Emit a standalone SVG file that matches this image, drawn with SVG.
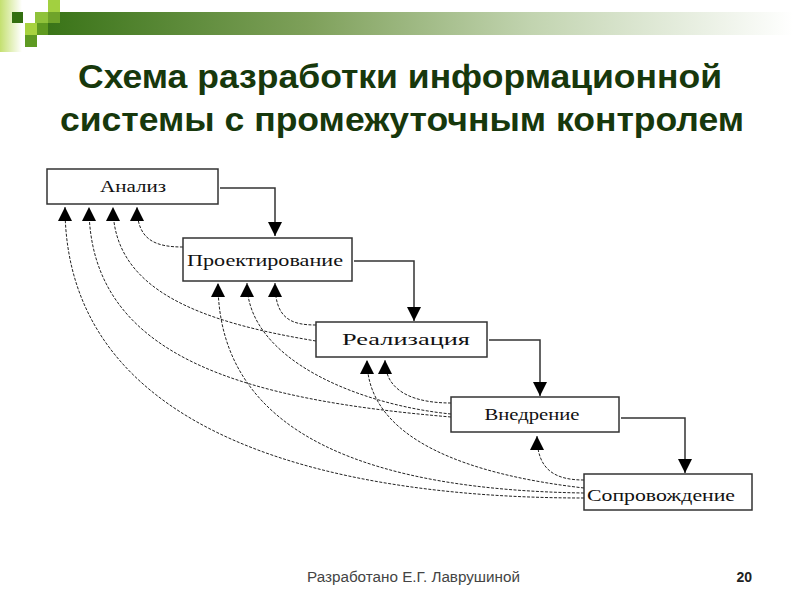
<svg xmlns="http://www.w3.org/2000/svg" width="800" height="600" viewBox="0 0 800 600">
<style>
.box{fill:#fff;stroke:#333;stroke-width:1.5}
.lbl{font-family:"Liberation Serif","DejaVu Serif",serif;font-size:16px;fill:#111;text-anchor:middle}
.fwd{fill:none;stroke:#333;stroke-width:1.5}
.fb{fill:none;stroke:#222;stroke-width:1;stroke-dasharray:3,1.5}
.title{font-family:"Liberation Sans",Arial,sans-serif;font-weight:bold;font-size:33px;fill:#17380c;text-anchor:middle}
</style>
<defs>
<linearGradient id="bar" x1="0" y1="0" x2="1" y2="0">
<stop offset="0" stop-color="#3a7418"/>
<stop offset="0.35" stop-color="#7ea05a"/>
<stop offset="0.65" stop-color="#c2d4b0"/>
<stop offset="1" stop-color="#ffffff"/>
</linearGradient>
<linearGradient id="strip" x1="0" y1="0" x2="1" y2="0">
<stop offset="0" stop-color="#c4e070"/>
<stop offset="1" stop-color="#ffffff"/>
</linearGradient>
<marker id="up" markerUnits="userSpaceOnUse" markerWidth="14" markerHeight="16" refX="14" refY="7" orient="auto" viewBox="0 0 14 14">
<path d="M14,7 L0,0 L0,14 Z" fill="#000" stroke="none"/>
</marker>
</defs>
<rect width="800" height="600" fill="#fff"/>
<g id="header">
<rect x="0" y="0" width="22" height="52" fill="url(#strip)"/>
<rect x="48" y="12" width="745" height="23" fill="url(#bar)"/>
<rect x="12" y="12" width="11" height="11" fill="#336f10"/>
<rect x="35" y="12" width="13" height="11" fill="#8fc23a"/>
<rect x="48" y="0" width="12" height="12" fill="#a2d040"/>
<rect x="48" y="12" width="12" height="11" fill="#6fa32a"/>
<rect x="25" y="23" width="12" height="12" fill="#a7d23f"/>
<rect x="37" y="23" width="11" height="12" fill="#5f9a20"/>
<rect x="25" y="35" width="12" height="12" fill="#5e9a22"/>
</g>
<g id="title">
<text class="title" x="400" y="88" textLength="644" lengthAdjust="spacingAndGlyphs">Схема разработки информационной</text>
<text class="title" x="402" y="131" textLength="684" lengthAdjust="spacingAndGlyphs">системы с промежуточным контролем</text>
</g>
<g id="connectors">
<path class="fwd" d="M220,188 H275 V236" marker-end="url(#up)"/>
<path class="fwd" d="M354,261 H414 V321" marker-end="url(#up)"/>
<path class="fwd" d="M489,340 H540 V396" marker-end="url(#up)"/>
<path class="fwd" d="M621,418 H685 V473" marker-end="url(#up)"/>
<path class="fb" d="M183,247 C155,247 137,240 137,207" marker-end="url(#up)"/>
<path class="fb" d="M316,325 C290,325 275,318 275,283" marker-end="url(#up)"/>
<path class="fb" d="M316,341 C200,322 113,290 113,207" marker-end="url(#up)"/>
<path class="fb" d="M451,403 C420,403 385,395 385,360" marker-end="url(#up)"/>
<path class="fb" d="M451,414 C360,405 247,360 247,283" marker-end="url(#up)"/>
<path class="fb" d="M451,417 C250,400 89,360 89,207" marker-end="url(#up)"/>
<path class="fb" d="M584,480 C555,480 537,470 537,436" marker-end="url(#up)"/>
<path class="fb" d="M584,488 C470,475 367,440 367,360" marker-end="url(#up)"/>
<path class="fb" d="M584,493 C380,490 218,440 218,283" marker-end="url(#up)"/>
<path class="fb" d="M584,498 C340,498 65,440 65,207" marker-end="url(#up)"/>
</g>
<g id="analiz">
<rect class="box" x="47" y="169" width="171" height="35"/>
<text class="lbl" x="133" y="192" textLength="66" lengthAdjust="spacingAndGlyphs">Анализ</text>
</g>
<g id="proekt">
<rect class="box" x="183" y="238" width="169" height="43"/>
<text class="lbl" x="265" y="266" textLength="156" lengthAdjust="spacingAndGlyphs">Проектирование</text>
</g>
<g id="realiz">
<rect class="box" x="316" y="322" width="171" height="35"/>
<text class="lbl" x="406" y="345" textLength="128" lengthAdjust="spacingAndGlyphs">Реализация</text>
</g>
<g id="vnedr">
<rect class="box" x="451" y="397" width="168" height="35"/>
<text class="lbl" x="532" y="420" textLength="95" lengthAdjust="spacingAndGlyphs">Внедрение</text>
</g>
<g id="soprov">
<rect class="box" x="584" y="474" width="168" height="36"/>
<text class="lbl" x="661" y="501" textLength="148" lengthAdjust="spacingAndGlyphs">Сопровождение</text>
</g>
<g id="footer">
<text x="307" y="582" font-family="'Liberation Sans',Arial,sans-serif" font-size="14" fill="#444" textLength="213" lengthAdjust="spacingAndGlyphs">Разработано Е.Г. Лаврушиной</text>
<text x="752" y="582" font-family="'Liberation Sans',Arial,sans-serif" font-size="14" font-weight="bold" fill="#222" text-anchor="end">20</text>
</g>
</svg>
